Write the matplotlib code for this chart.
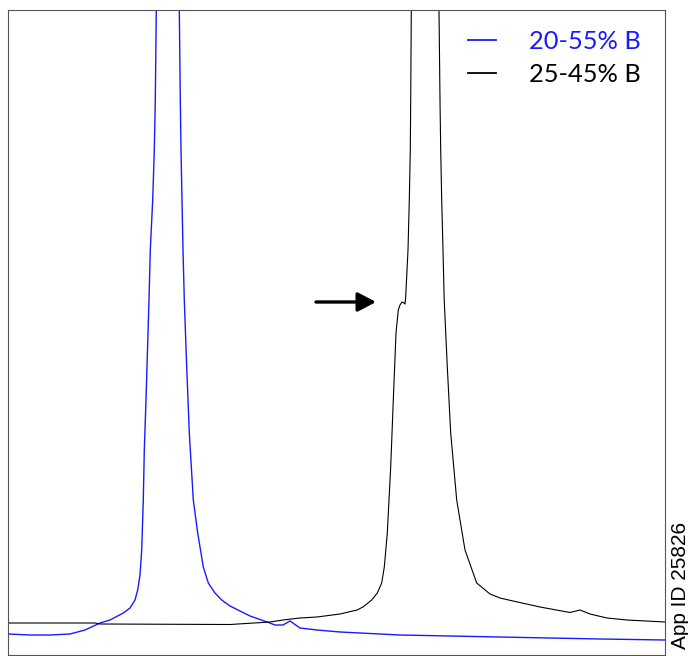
import matplotlib
matplotlib.use('Agg')
import matplotlib.pyplot as plt

# Chromatogram traces (x: retention, y: signal, arbitrary units)
blue_x = [0, 22, 42, 62, 77, 92, 102, 115.3, 122, 127,
          129.7, 132, 133.7, 135.3, 136.3, 138, 141, 142.3, 144.7, 146.3,
          147.3, 148.3, 148.6, 160, 171, 171.3, 172.3, 173, 174, 175,
          176.3, 178.7, 181.3, 185.3, 189.7, 195.3, 200.3, 207, 213.7, 222,
          242, 259, 267, 275, 282, 292, 309, 332, 392, 492,
          592, 657]
blue_y = [21, 20, 20, 21, 25, 32, 35, 42, 47, 55,
          65, 80, 105, 155, 205, 255, 355, 405, 455, 505,
          555, 645, 690, 740, 690, 645, 555, 505, 455, 405,
          355, 288, 222, 155, 122, 88, 72, 62, 55, 49,
          39, 33, 30, 30, 34, 27, 25, 23, 20, 18,
          16, 15]

black_x = [0, 87, 92, 222, 262, 275, 292, 309, 332, 349,
           355, 363.7, 369.3, 373.7, 376.3, 379.3, 382.7, 385.3, 388, 390.3,
           392, 394, 396, 397, 397.7, 400, 401.3, 402.3, 402.7, 403.3,
           403.5, 417, 430.8, 431, 432, 432.7, 433.7, 435, 436.2, 439.3,
           442.7, 448.7, 457, 468.7, 482, 492, 505, 532, 562, 572,
           582, 599, 619, 657]
black_y = [32, 32, 31, 30.5, 33, 35, 37, 38, 41, 45,
           48, 55, 62, 72, 88, 122, 188, 255, 322, 345,
           350, 353, 352, 351, 358, 405, 455, 505, 555, 645,
           690, 740, 690, 645, 555, 505, 455, 405, 355, 288,
           222, 155, 105, 72, 61, 57, 54, 48, 42.5, 45,
           41, 37, 35, 33]

labels = ['20-55% B', '25-45% B']
app_id = 'App ID 25826'

fig = plt.figure(figsize=(6.88, 6.56), dpi=100)
ax = fig.add_axes([8 / 688, 1 / 656, 657 / 688, 645 / 656])

ax.plot(blue_x, blue_y, color='#1a1aff', lw=1.0, label=labels[0])
ax.plot(black_x, black_y, color='black', lw=0.8, label=labels[1])

ax.set_xlim(0, 657)
ax.set_ylim(0, 645)
ax.set_xticks([])
ax.set_yticks([])
for s in ax.spines.values():
    s.set_color('#555555')
    s.set_linewidth(0.8)

# arrow pointing at the shoulder
ax.annotate('', xy=(368, 353), xytext=(308, 353),
            arrowprops=dict(arrowstyle='-|>,head_length=1.1,head_width=0.58',
                            color='black', lw=2.4, shrinkA=0, shrinkB=0))

leg = ax.legend(loc='upper right', bbox_to_anchor=(0.998, 1.005), frameon=False,
                prop={'family': 'Lato', 'size': 18.3}, handlelength=1.1,
                handletextpad=1.3, labelspacing=0.42, labelcolor=['#1a1aff', 'black'])
for h in leg.get_lines():
    h.set_linewidth(1.3)

fig.text(680 / 688, 1 - 585 / 656, app_id, rotation=90, ha='center', va='center',
         fontsize=15, family='Liberation Sans')

fig.savefig('out.png', dpi=100)
